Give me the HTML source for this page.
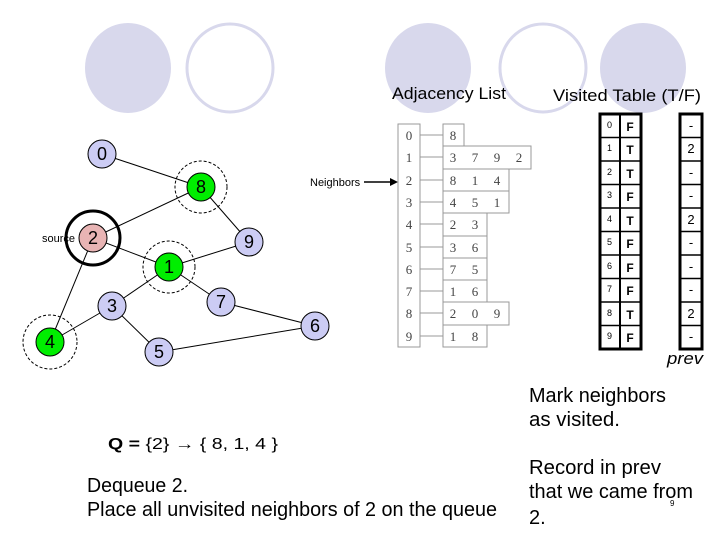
<!DOCTYPE html>
<html><head><meta charset="utf-8"><style>
html,body{margin:0;padding:0;background:#fff;}
svg{display:block;font-family:"Liberation Sans",sans-serif;}
</style></head><body>
<svg width="720" height="540" viewBox="0 0 720 540" xmlns="http://www.w3.org/2000/svg">
<ellipse cx="128" cy="68" rx="43" ry="45" fill="#d8d8ec"/>
<ellipse cx="230" cy="68" rx="43" ry="44" fill="none" stroke="#d8d8ec" stroke-width="3"/>
<ellipse cx="428" cy="68" rx="43" ry="45" fill="#d8d8ec"/>
<ellipse cx="543" cy="68" rx="43" ry="44" fill="none" stroke="#d8d8ec" stroke-width="3"/>
<ellipse cx="643" cy="68" rx="43" ry="45" fill="#d8d8ec"/>

<text x="392" y="99" font-size="17" textLength="114" lengthAdjust="spacingAndGlyphs">Adjacency List</text>
<text x="553" y="101" font-size="17" textLength="148" lengthAdjust="spacingAndGlyphs">Visited Table (T/F)</text>

<g stroke="#000" stroke-width="1">
<line x1="102" y1="154" x2="201" y2="187"/>
<line x1="93" y1="238" x2="201" y2="187"/>
<line x1="201" y1="187" x2="249" y2="242"/>
<line x1="93" y1="238" x2="169" y2="267"/>
<line x1="169" y1="267" x2="249" y2="242"/>
<line x1="169" y1="267" x2="221" y2="302"/>
<line x1="169" y1="267" x2="112" y2="306"/>
<line x1="93" y1="238" x2="50" y2="342"/>
<line x1="112" y1="306" x2="50" y2="342"/>
<line x1="112" y1="306" x2="159" y2="352"/>
<line x1="221" y1="302" x2="315" y2="326"/>
<line x1="159" y1="352" x2="315" y2="326"/>
</g>
<g fill="none" stroke="#000" stroke-dasharray="3,2">
<circle cx="201" cy="187" r="26"/>
<circle cx="169" cy="267" r="26"/>
<circle cx="50" cy="342" r="27"/>
</g>
<circle cx="93" cy="238" r="27" fill="none" stroke="#000" stroke-width="3"/>
<g stroke="#000" stroke-width="1">
<circle cx="102" cy="154" r="14" fill="#ccccf4"/>
<circle cx="201" cy="187" r="14" fill="#00ee00"/>
<circle cx="93" cy="238" r="14" fill="#e8b4b4"/>
<circle cx="249" cy="242" r="14" fill="#ccccf4"/>
<circle cx="169" cy="267" r="14" fill="#00ee00"/>
<circle cx="112" cy="306" r="14" fill="#ccccf4"/>
<circle cx="221" cy="302" r="14" fill="#ccccf4"/>
<circle cx="315" cy="326" r="14" fill="#ccccf4"/>
<circle cx="50" cy="342" r="14" fill="#00ee00"/>
<circle cx="159" cy="352" r="14" fill="#ccccf4"/>
</g>
<g font-size="18" text-anchor="middle" fill="#000">
<text x="102" y="160">0</text>
<text x="201" y="193">8</text>
<text x="93" y="244">2</text>
<text x="249" y="248">9</text>
<text x="169" y="273">1</text>
<text x="112" y="312">3</text>
<text x="221" y="308">7</text>
<text x="315" y="332">6</text>
<text x="50" y="348">4</text>
<text x="159" y="358">5</text>
</g>
<text x="42" y="242" font-size="11">source</text>

<text x="310" y="186" font-size="11">Neighbors</text>
<line x1="364" y1="182" x2="392" y2="182" stroke="#000" stroke-width="1.5"/>
<polygon points="398,182 390,178 390,186" fill="#000"/>

<rect x="398" y="124" width="22" height="223" stroke="#999" fill="none"/>
<g font-family="Liberation Serif,serif" font-size="13" fill="#444" text-anchor="middle">
<text x="409" y="140">0</text><text x="409" y="162">1</text><text x="409" y="185">2</text><text x="409" y="207">3</text><text x="409" y="229">4</text><text x="409" y="252">5</text><text x="409" y="274">6</text><text x="409" y="296">7</text><text x="409" y="318">8</text><text x="409" y="341">9</text>
</g>
<g stroke="#999" stroke-width="1" fill="none">
<line x1="420" y1="135" x2="443" y2="135"/><line x1="420" y1="157" x2="443" y2="157"/><line x1="420" y1="180" x2="443" y2="180"/><line x1="420" y1="202" x2="443" y2="202"/><line x1="420" y1="224" x2="443" y2="224"/><line x1="420" y1="247" x2="443" y2="247"/><line x1="420" y1="269" x2="443" y2="269"/><line x1="420" y1="291" x2="443" y2="291"/><line x1="420" y1="313" x2="443" y2="313"/><line x1="420" y1="336" x2="443" y2="336"/>
<rect x="443" y="124" width="21" height="22"/>
<rect x="443" y="146" width="88" height="23"/>
<rect x="443" y="169" width="66" height="22"/>
<rect x="443" y="191" width="66" height="22"/>
<rect x="443" y="213" width="44" height="23"/>
<rect x="443" y="236" width="44" height="22"/>
<rect x="443" y="258" width="44" height="22"/>
<rect x="443" y="280" width="44" height="22"/>
<rect x="443" y="302" width="66" height="23"/>
<rect x="443" y="325" width="44" height="22"/>
</g>
<g font-family="Liberation Serif,serif" font-size="13" fill="#444" text-anchor="middle">
<text x="453" y="140">8</text>
<text x="453" y="162">3</text><text x="475" y="162">7</text><text x="497" y="162">9</text><text x="519" y="162">2</text>
<text x="453" y="185">8</text><text x="475" y="185">1</text><text x="497" y="185">4</text>
<text x="453" y="207">4</text><text x="475" y="207">5</text><text x="497" y="207">1</text>
<text x="453" y="229">2</text><text x="475" y="229">3</text>
<text x="453" y="252">3</text><text x="475" y="252">6</text>
<text x="453" y="274">7</text><text x="475" y="274">5</text>
<text x="453" y="296">1</text><text x="475" y="296">6</text>
<text x="453" y="318">2</text><text x="475" y="318">0</text><text x="497" y="318">9</text>
<text x="453" y="341">1</text><text x="475" y="341">8</text>
</g>

<g stroke="#000" fill="none">
<rect x="600" y="114" width="41" height="235" stroke-width="3"/>
<line x1="620" y1="114" x2="620" y2="349" stroke-width="2"/>
<rect x="680" y="114" width="22" height="235" stroke-width="3"/>
<g stroke-width="1.5">
<line x1="600" y1="137.5" x2="641" y2="137.5"/><line x1="600" y1="161" x2="641" y2="161"/><line x1="600" y1="184.5" x2="641" y2="184.5"/><line x1="600" y1="208" x2="641" y2="208"/><line x1="600" y1="231.5" x2="641" y2="231.5"/><line x1="600" y1="255" x2="641" y2="255"/><line x1="600" y1="278.5" x2="641" y2="278.5"/><line x1="600" y1="302" x2="641" y2="302"/><line x1="600" y1="325.5" x2="641" y2="325.5"/>
<line x1="680" y1="137.5" x2="702" y2="137.5"/><line x1="680" y1="161" x2="702" y2="161"/><line x1="680" y1="184.5" x2="702" y2="184.5"/><line x1="680" y1="208" x2="702" y2="208"/><line x1="680" y1="231.5" x2="702" y2="231.5"/><line x1="680" y1="255" x2="702" y2="255"/><line x1="680" y1="278.5" x2="702" y2="278.5"/><line x1="680" y1="302" x2="702" y2="302"/><line x1="680" y1="325.5" x2="702" y2="325.5"/>
</g>
</g>
<g font-size="9" fill="#000">
<text x="607" y="128">0</text><text x="607" y="151">1</text><text x="607" y="175">2</text><text x="607" y="198">3</text><text x="607" y="222">4</text><text x="607" y="245">5</text><text x="607" y="269">6</text><text x="607" y="292">7</text><text x="607" y="316">8</text><text x="607" y="339">9</text>
</g>
<g font-size="12" font-weight="bold" fill="#000" text-anchor="middle">
<text x="630" y="131">F</text><text x="630" y="154">T</text><text x="630" y="178">T</text><text x="630" y="201">F</text><text x="630" y="225">T</text><text x="630" y="248">F</text><text x="630" y="272">F</text><text x="630" y="295">F</text><text x="630" y="319">T</text><text x="630" y="342">F</text>
</g>
<g font-size="13" fill="#000" text-anchor="middle">
<text x="691" y="130">-</text><text x="691" y="153">2</text><text x="691" y="177">-</text><text x="691" y="200">-</text><text x="691" y="224">2</text><text x="691" y="247">-</text><text x="691" y="271">-</text><text x="691" y="294">-</text><text x="691" y="318">2</text><text x="691" y="341">-</text>
</g>
<text x="667" y="364" font-size="17" font-style="italic" textLength="36" lengthAdjust="spacingAndGlyphs">prev</text>

<text x="108" y="449" font-size="16" textLength="170" lengthAdjust="spacingAndGlyphs"><tspan font-weight="bold">Q =</tspan> {2} → { 8, 1, 4 }</text>
<text x="87" y="492" font-size="20" textLength="101" lengthAdjust="spacingAndGlyphs">Dequeue 2.</text>
<text x="87" y="516" font-size="20" textLength="410" lengthAdjust="spacingAndGlyphs">Place all unvisited neighbors of 2 on the queue</text>
<text x="529" y="402" font-size="20" textLength="137" lengthAdjust="spacingAndGlyphs">Mark neighbors</text>
<text x="529" y="426" font-size="20" textLength="91" lengthAdjust="spacingAndGlyphs">as visited.</text>
<text x="529" y="474" font-size="20" textLength="132" lengthAdjust="spacingAndGlyphs">Record in prev</text>
<text x="529" y="498" font-size="20" textLength="164" lengthAdjust="spacingAndGlyphs">that we came from</text>
<text x="529" y="524" font-size="20">2.</text>
<text x="670" y="506" font-size="8">9</text>
</svg>
</body></html>
